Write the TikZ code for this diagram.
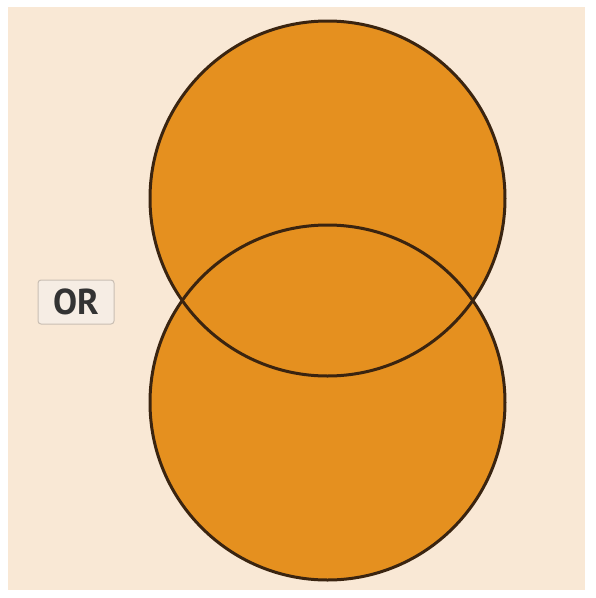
\documentclass[tikz,border=0pt]{standalone}
\usepackage{fontspec}
\setsansfont{PT Sans}
\usetikzlibrary{positioning}
\definecolor{paper}{HTML}{F9E8D5}
\definecolor{set}{HTML}{E5901F}
\definecolor{rim}{HTML}{3A2410}
\definecolor{tag}{HTML}{F6EDE4}
\definecolor{tagline}{HTML}{C9BEB3}
\definecolor{ink}{HTML}{333333}
\tikzset{
  disc/.style={circle, inner sep=0pt, minimum size=355pt, fill=set},
  ring/.style={circle, inner sep=0pt, minimum size=355pt, draw=rim, line width=3pt},
  op/.style={draw=tagline, fill=tag, rounded corners=3pt, line width=1pt,
    minimum width=76pt, minimum height=44pt, inner sep=2pt, text=ink,
    font=\fontsize{36}{40}\selectfont\sffamily\bfseries},
}

\begin{document}
\begin{tikzpicture}[x=1pt, y=-1pt]
    \useasboundingbox (0,0) rectangle (596,598);
    \fill[paper] (8,7) rectangle (585,590);
    \node[disc] (upper) at (327.5,198.5) {};
    \node[disc] (lower) at (327.5,402.5) {};
    \node[ring] at (upper) {};
    \node[ring] at (lower) {};
    \node[op] (or) at (76,302) {OR};
  \end{tikzpicture}
\end{document}
